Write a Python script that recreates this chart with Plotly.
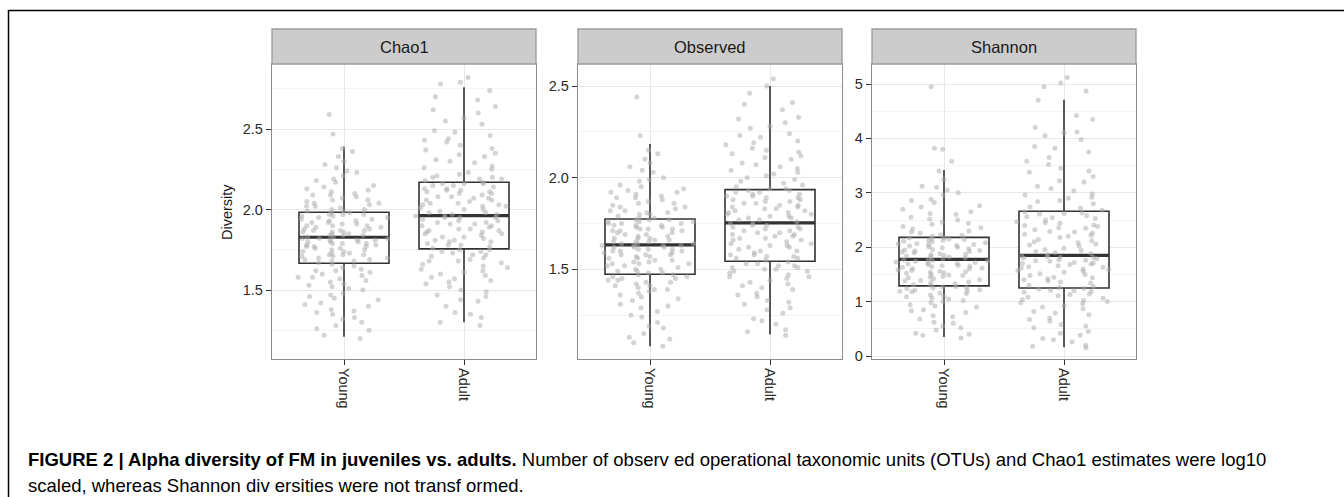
import plotly.graph_objects as go

groups = ["Young", "Adult"]
panels = ["Chao1", "Observed", "Shannon"]

# Box summary statistics (per panel: Young, Adult)
chao1_q1 = [1.667, 1.756]
chao1_med = [1.828, 1.963]
chao1_q3 = [1.983, 2.170]
chao1_lo = [1.21, 1.30]
chao1_hi = [2.39, 2.76]

obs_q1 = [1.473, 1.544]
obs_med = [1.634, 1.753]
obs_q3 = [1.775, 1.935]
obs_lo = [1.08, 1.145]
obs_hi = [2.184, 2.50]

sha_q1 = [1.29, 1.25]
sha_med = [1.775, 1.85]
sha_q3 = [2.18, 2.66]
sha_lo = [0.35, 0.16]
sha_hi = [3.42, 4.71]

# Individual sample values (estimated from the jittered points)
chao1_young = [1.20, 1.22, 1.25, 1.28, 1.30, 1.32, 1.35, 1.36, 1.38, 1.40, 1.42, 1.44, 1.46, 1.48, 1.50, 1.52, 1.54, 1.55, 1.57, 1.58, 1.60, 1.61, 1.62, 1.64, 1.66,
               1.67, 1.68, 1.69, 1.70, 1.71, 1.72, 1.72, 1.73, 1.74, 1.75, 1.75, 1.76, 1.77, 1.77, 1.78, 1.79, 1.79, 1.80, 1.80, 1.81, 1.81, 1.82, 1.82, 1.83, 1.83,
               1.84, 1.84, 1.85, 1.86, 1.86, 1.87, 1.88, 1.88, 1.89, 1.90, 1.90, 1.91, 1.92, 1.92, 1.93, 1.94, 1.94, 1.95, 1.96, 1.96, 1.97, 1.97, 1.98, 1.98, 1.99,
               2.00, 2.01, 2.02, 2.03, 2.04, 2.05, 2.06, 2.07, 2.08, 2.09, 2.10, 2.11, 2.13, 2.15, 2.17, 2.19, 2.21, 2.23, 2.26, 2.28, 2.30, 2.33, 2.38, 2.47, 2.59,
               1.26, 1.37, 1.45, 1.51, 1.56, 1.59, 1.63, 1.65, 1.68, 1.70, 1.71, 1.73, 1.74, 1.76, 1.78, 1.79, 1.80, 1.82, 1.84, 1.85, 1.87, 1.87, 1.89, 1.91, 1.93,
               1.95, 1.97, 1.99, 2.00, 2.02, 2.04, 2.06, 2.09, 2.12, 1.77, 1.81, 1.86, 1.90, 1.72, 1.69, 1.62, 1.58, 1.53, 1.47, 1.41, 2.14, 2.18, 2.24, 2.36, 1.33]
chao1_adult = [1.28, 1.30, 1.33, 1.36, 1.40, 1.43, 1.46, 1.49, 1.52, 1.54, 1.55, 1.57, 1.59, 1.61, 1.62, 1.64, 1.65, 1.67, 1.68, 1.70, 1.71, 1.72, 1.73, 1.74, 1.75,
               1.76, 1.77, 1.78, 1.79, 1.80, 1.81, 1.82, 1.83, 1.84, 1.85, 1.86, 1.87, 1.87, 1.88, 1.89, 1.90, 1.91, 1.92, 1.92, 1.93, 1.94, 1.95, 1.95, 1.96, 1.96,
               1.97, 1.98, 1.99, 2.00, 2.01, 2.02, 2.03, 2.04, 2.05, 2.06, 2.07, 2.07, 2.08, 2.09, 2.10, 2.11, 2.12, 2.12, 2.13, 2.14, 2.15, 2.15, 2.16, 2.16, 2.17,
               2.18, 2.19, 2.20, 2.21, 2.23, 2.25, 2.27, 2.29, 2.31, 2.33, 2.35, 2.37, 2.40, 2.42, 2.44, 2.46, 2.49, 2.53, 2.57, 2.60, 2.64, 2.70, 2.74, 2.79, 2.82,
               1.35, 1.44, 1.50, 1.56, 1.60, 1.63, 1.66, 1.69, 1.72, 1.75, 1.78, 1.81, 1.83, 1.86, 1.88, 1.90, 1.93, 1.95, 1.98, 2.00, 2.02, 2.04, 2.06, 2.08, 2.10,
               2.13, 2.16, 2.19, 2.22, 2.26, 2.30, 2.34, 2.38, 2.43, 2.48, 2.55, 2.62, 2.68, 1.80, 1.85, 1.91, 1.97, 2.03, 2.11, 1.74, 1.68, 1.58, 1.47, 2.20, 2.78]
obs_young = [1.08, 1.10, 1.13, 1.15, 1.18, 1.21, 1.24, 1.27, 1.29, 1.31, 1.33, 1.35, 1.37, 1.38, 1.39, 1.40, 1.41, 1.42, 1.43, 1.44, 1.45, 1.45, 1.46, 1.47, 1.47,
             1.48, 1.49, 1.50, 1.51, 1.52, 1.53, 1.53, 1.54, 1.55, 1.56, 1.56, 1.57, 1.58, 1.58, 1.59, 1.60, 1.60, 1.61, 1.61, 1.62, 1.62, 1.63, 1.63, 1.63, 1.64,
             1.64, 1.65, 1.65, 1.66, 1.67, 1.67, 1.68, 1.69, 1.69, 1.70, 1.71, 1.71, 1.72, 1.72, 1.73, 1.74, 1.74, 1.75, 1.75, 1.76, 1.76, 1.77, 1.77, 1.77, 1.78,
             1.79, 1.80, 1.81, 1.82, 1.83, 1.84, 1.85, 1.86, 1.87, 1.88, 1.89, 1.90, 1.91, 1.92, 1.93, 1.94, 1.96, 1.98, 2.00, 2.03, 2.06, 2.10, 2.15, 2.23, 2.44,
             1.12, 1.19, 1.25, 1.30, 1.34, 1.36, 1.39, 1.41, 1.43, 1.46, 1.48, 1.50, 1.52, 1.54, 1.55, 1.57, 1.59, 1.60, 1.62, 1.63, 1.65, 1.66, 1.68, 1.70, 1.72,
             1.73, 1.75, 1.76, 1.78, 1.80, 1.82, 1.84, 1.86, 1.89, 1.92, 1.95, 1.99, 2.04, 2.08, 2.13, 1.61, 1.64, 1.67, 1.58, 1.53, 1.49, 1.44, 1.71, 1.74, 1.81]
obs_adult = [1.14, 1.17, 1.20, 1.23, 1.26, 1.29, 1.31, 1.33, 1.35, 1.37, 1.39, 1.41, 1.42, 1.44, 1.45, 1.46, 1.47, 1.48, 1.49, 1.50, 1.51, 1.52, 1.52, 1.53, 1.54,
             1.55, 1.56, 1.57, 1.58, 1.59, 1.60, 1.61, 1.62, 1.63, 1.64, 1.65, 1.66, 1.66, 1.67, 1.68, 1.69, 1.70, 1.70, 1.71, 1.72, 1.72, 1.73, 1.74, 1.74, 1.75,
             1.76, 1.77, 1.78, 1.79, 1.80, 1.80, 1.81, 1.82, 1.83, 1.84, 1.84, 1.85, 1.86, 1.87, 1.87, 1.88, 1.89, 1.90, 1.90, 1.91, 1.92, 1.92, 1.93, 1.93, 1.94,
             1.95, 1.96, 1.98, 1.99, 2.01, 2.02, 2.04, 2.06, 2.08, 2.10, 2.12, 2.14, 2.16, 2.18, 2.20, 2.22, 2.24, 2.27, 2.30, 2.33, 2.37, 2.41, 2.46, 2.50, 2.54,
             1.16, 1.22, 1.28, 1.32, 1.36, 1.40, 1.43, 1.46, 1.49, 1.51, 1.53, 1.56, 1.58, 1.60, 1.62, 1.64, 1.67, 1.69, 1.71, 1.73, 1.75, 1.77, 1.79, 1.81, 1.83,
             1.85, 1.88, 1.91, 1.94, 1.97, 2.00, 2.03, 2.07, 2.11, 2.15, 2.19, 2.23, 2.28, 2.32, 2.40, 1.78, 1.82, 1.86, 1.89, 1.68, 1.63, 1.57, 1.50, 2.05, 2.13]
sha_young = [0.33, 0.38, 0.42, 0.48, 0.55, 0.62, 0.68, 0.74, 0.80, 0.85, 0.90, 0.94, 0.98, 1.02, 1.06, 1.09, 1.12, 1.15, 1.18, 1.20, 1.22, 1.24, 1.26, 1.27, 1.28,
             1.30, 1.33, 1.36, 1.39, 1.42, 1.44, 1.46, 1.48, 1.50, 1.52, 1.54, 1.56, 1.58, 1.60, 1.61, 1.63, 1.65, 1.66, 1.68, 1.69, 1.71, 1.72, 1.73, 1.75, 1.77,
             1.78, 1.80, 1.82, 1.84, 1.86, 1.88, 1.90, 1.92, 1.94, 1.95, 1.97, 1.99, 2.00, 2.02, 2.04, 2.05, 2.07, 2.08, 2.10, 2.11, 2.13, 2.14, 2.15, 2.17, 2.18,
             2.20, 2.23, 2.26, 2.30, 2.34, 2.38, 2.42, 2.46, 2.50, 2.55, 2.60, 2.65, 2.70, 2.76, 2.82, 2.88, 2.96, 3.05, 3.12, 3.25, 3.40, 3.58, 3.80, 3.82, 4.95,
             0.40, 0.52, 0.60, 0.72, 0.83, 0.92, 1.00, 1.05, 1.10, 1.16, 1.21, 1.25, 1.31, 1.35, 1.40, 1.45, 1.49, 1.53, 1.57, 1.62, 1.67, 1.70, 1.74, 1.79, 1.83,
             1.87, 1.91, 1.96, 2.01, 2.06, 2.12, 2.16, 2.22, 2.28, 2.36, 2.44, 2.52, 2.62, 2.74, 2.86, 3.00, 3.10, 1.55, 1.64, 1.76, 1.85, 1.93, 2.03, 1.38, 1.19]
sha_adult = [0.15, 0.20, 0.26, 0.32, 0.38, 0.45, 0.52, 0.58, 0.64, 0.70, 0.76, 0.82, 0.87, 0.92, 0.96, 1.00, 1.04, 1.08, 1.11, 1.14, 1.17, 1.19, 1.21, 1.23, 1.24,
             1.26, 1.30, 1.34, 1.38, 1.42, 1.45, 1.48, 1.51, 1.54, 1.57, 1.60, 1.62, 1.64, 1.66, 1.68, 1.70, 1.72, 1.74, 1.76, 1.77, 1.79, 1.80, 1.82, 1.83, 1.84,
             1.86, 1.90, 1.94, 1.98, 2.02, 2.06, 2.10, 2.14, 2.18, 2.22, 2.26, 2.29, 2.32, 2.35, 2.38, 2.41, 2.44, 2.47, 2.50, 2.53, 2.56, 2.58, 2.61, 2.63, 2.65,
             2.68, 2.74, 2.80, 2.86, 2.92, 2.98, 3.04, 3.12, 3.20, 3.30, 3.40, 3.52, 3.65, 3.75, 3.85, 3.98, 4.10, 4.12, 4.20, 4.42, 4.70, 4.87, 4.95, 5.02, 5.12,
             0.18, 0.30, 0.42, 0.55, 0.67, 0.79, 0.90, 0.98, 1.06, 1.13, 1.20, 1.28, 1.36, 1.44, 1.50, 1.56, 1.63, 1.69, 1.75, 1.81, 1.88, 1.96, 2.04, 2.12, 2.20,
             2.28, 2.36, 2.45, 2.54, 2.62, 2.72, 2.84, 2.96, 3.08, 3.22, 3.38, 3.58, 3.82, 4.05, 4.35, 1.59, 1.71, 1.92, 2.08, 2.24, 2.40, 1.40, 1.02, 2.90, 3.45]

y_ranges = [[1.072, 2.904], [1.011, 2.620], [-0.055, 5.368]]
y_tickvals = [[1.5, 2.0, 2.5], [1.5, 2.0, 2.5], [0, 1, 2, 3, 4, 5]]
y_ticktext = [["1.5", "2.0", "2.5"], ["1.5", "2.0", "2.5"], ["0", "1", "2", "3", "4", "5"]]
y_minor = [0.25, 0.25, 0.5]

caption_bold = "FIGURE 2 | Alpha diversity of FM in juveniles vs. adults."
caption_l1 = " Number of observ ed operational taxonomic units (OTUs) and Chao1 estimates were log10"
caption_l2 = "scaled, whereas Shannon div ersities were not transf ormed."
y_title = "Diversity"

stats = [
    (chao1_q1, chao1_med, chao1_q3, chao1_lo, chao1_hi, chao1_young, chao1_adult),
    (obs_q1, obs_med, obs_q3, obs_lo, obs_hi, obs_young, obs_adult),
    (sha_q1, sha_med, sha_q3, sha_lo, sha_hi, sha_young, sha_adult),
]

W, H = 1344, 497
x_domains = [[272 / W, 536 / W], [578 / W, 842 / W], [872 / W, 1136 / W]]
y_domain = [1 - 359 / H, 1 - 64 / H]
strip_y = [1 - 64 / H, 1 - 29 / H]

FONT = "Liberation Sans, Arial, sans-serif"
BOXLINE = "#333333"
N_CHUNKS = 5  # points split into value bands so the library's jitter spreads evenly


def chunks(vals, n):
    s = sorted(vals)
    k = len(s)
    return [s[round(i * k / n):round((i + 1) * k / n)] for i in range(n)]


fig = go.Figure()
for i, (q1, med, q3, lo, hi, yv, av) in enumerate(stats):
    xa = "x" if i == 0 else f"x{i+1}"
    ya = "y" if i == 0 else f"y{i+1}"
    fig.add_trace(go.Box(
        x=groups, q1=q1, median=med, q3=q3, lowerfence=lo, upperfence=hi,
        boxpoints=False, width=0.75, whiskerwidth=0,
        fillcolor="white", line=dict(color=BOXLINE, width=1.6),
        xaxis=xa, yaxis=ya, showlegend=False, hoverinfo="skip"))
    fig.add_trace(go.Box(
        x=groups, q1=med, median=med, q3=med, lowerfence=med, upperfence=med,
        boxpoints=False, width=0.75, whiskerwidth=0,
        fillcolor="rgba(0,0,0,0)", line=dict(color=BOXLINE, width=3.2),
        xaxis=xa, yaxis=ya, showlegend=False, hoverinfo="skip"))
    for cy, ca in zip(chunks(yv, N_CHUNKS), chunks(av, N_CHUNKS)):
        fig.add_trace(go.Box(
            x=[groups[0]] * len(cy) + [groups[1]] * len(ca), y=cy + ca,
            boxpoints="all", jitter=1, pointpos=0, width=0.82,
            fillcolor="rgba(0,0,0,0)", line=dict(color="rgba(0,0,0,0)", width=0),
            marker=dict(color="rgba(170,170,170,0.5)", size=5, line=dict(width=0)),
            xaxis=xa, yaxis=ya, showlegend=False))

layout = dict(
    width=W, height=H, margin=dict(l=0, r=0, t=0, b=0),
    paper_bgcolor="white", plot_bgcolor="white",
    boxmode="overlay", showlegend=False,
    font=dict(family=FONT, color="#2b2b2b"),
)
axis_common = dict(showline=True, mirror=True, linecolor="#8c8c8c", linewidth=1.3,
                   ticks="outside", ticklen=5, tickwidth=1, tickcolor="#333333",
                   gridcolor="#e8e8e8", gridwidth=1, zeroline=False, automargin=False,
                   tickfont=dict(family=FONT, size=14.5, color="#2b2b2b"))
shapes = []
annotations = []
for i in range(3):
    sx = "" if i == 0 else str(i + 1)
    layout[f"xaxis{sx}"] = dict(axis_common, domain=x_domains[i], anchor=f"y{sx}",
                                type="category", range=[-0.6, 1.6], tickangle=90,
                                categoryorder="array", categoryarray=groups)
    layout[f"yaxis{sx}"] = dict(axis_common, domain=y_domain, anchor=f"x{sx}",
                                range=y_ranges[i], tickvals=y_tickvals[i], ticktext=y_ticktext[i],
                                minor=dict(dtick=y_minor[i], tick0=0, showgrid=True,
                                           gridcolor="#f4f4f4", gridwidth=1, ticks=""))
    shapes.append(dict(type="rect", xref="paper", yref="paper",
                       x0=x_domains[i][0], x1=x_domains[i][1], y0=strip_y[0], y1=strip_y[1],
                       fillcolor="#cccccc", line=dict(color="#9a9a9a", width=1.3), layer="above"))
    annotations.append(dict(text=panels[i], xref="paper", yref="paper",
                            x=(x_domains[i][0] + x_domains[i][1]) / 2, y=(strip_y[0] + strip_y[1]) / 2,
                            xanchor="center", yanchor="middle", showarrow=False,
                            font=dict(family=FONT, size=16.5, color="#1a1a1a")))

# outer figure frame
shapes.append(dict(type="rect", xref="paper", yref="paper", x0=8.5 / W, x1=1.05,
                   y0=-0.05, y1=1 - 10.5 / H, line=dict(color="black", width=1.5), layer="below"))

annotations.append(dict(text=y_title, xref="paper", yref="paper", x=227 / W, y=1 - 212 / H,
                        textangle=-90, xanchor="center", yanchor="middle", showarrow=False,
                        font=dict(family=FONT, size=14.5, color="#1a1a1a")))
annotations.append(dict(text=f"<b>{caption_bold}</b>{caption_l1}", xref="paper", yref="paper",
                        x=26 / W, y=1 - 459 / H, xanchor="left", yanchor="middle", showarrow=False,
                        font=dict(family=FONT, size=18.5, color="#000000")))
annotations.append(dict(text=caption_l2, xref="paper", yref="paper",
                        x=26 / W, y=1 - 485 / H, xanchor="left", yanchor="middle", showarrow=False,
                        font=dict(family=FONT, size=18.5, color="#000000")))

layout["shapes"] = shapes
layout["annotations"] = annotations
fig.update_layout(**layout)
fig.write_html("out.html")
